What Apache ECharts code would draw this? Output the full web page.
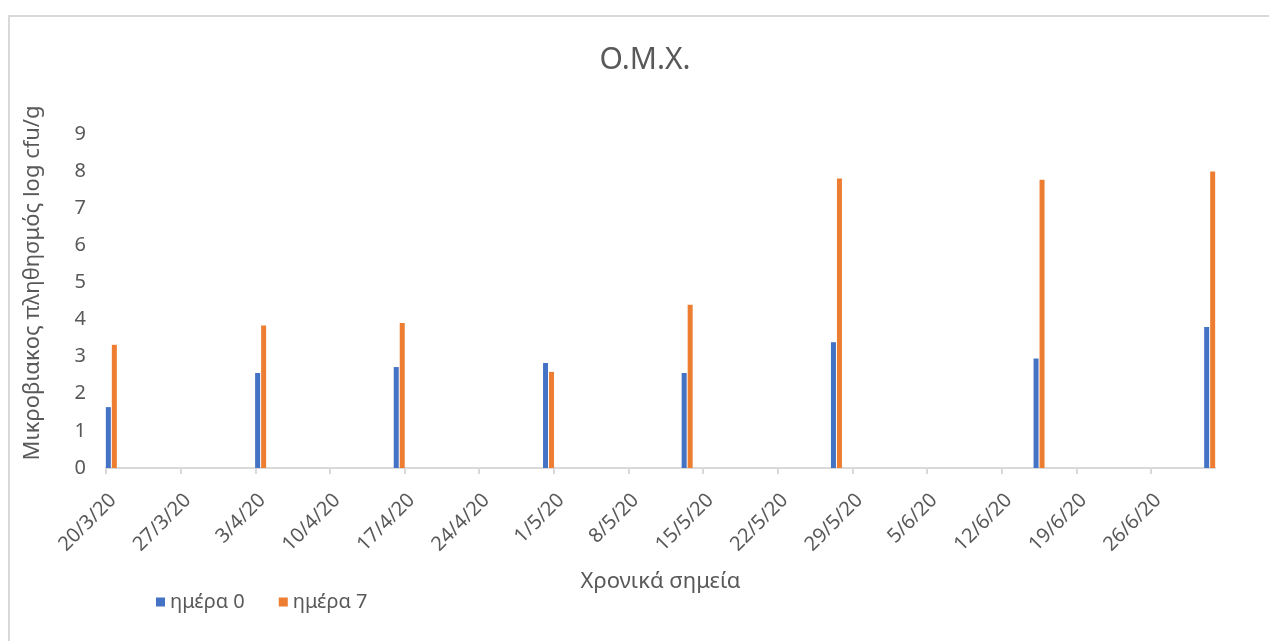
<!DOCTYPE html>
<html>
<head>
<meta charset="utf-8">
<script src="https://cdn.jsdelivr.net/npm/echarts@6/dist/echarts.min.js"></script>
<style>
    html, body {
        margin: 0;
        padding: 0;
        background: #fff;
    }
    #chart {
        width: 1269px;
        height: 641px;
    }
</style>
</head>
<body>
<div id="chart"></div>
<script>
// sampling dates and measured values (log cfu/g)
const dates = ["20/3/20", "3/4/20", "16/4/20", "30/4/20", "13/5/20", "27/5/20", "15/6/20", "1/7/20"];
const day0 = [1.64, 2.56, 2.72, 2.83, 2.56, 3.39, 2.95, 3.80];
const day7 = [3.32, 3.84, 3.91, 2.59, 4.40, 7.80, 7.77, 7.99];

// date axis: first day, day after the last slot, weekly tick labels
const axisStart = "20/3/20";
const axisEnd = "2/7/20";
const tickLabels = ["20/3/20", "27/3/20", "3/4/20", "10/4/20", "17/4/20", "24/4/20", "1/5/20",
    "8/5/20", "15/5/20", "22/5/20", "29/5/20", "5/6/20", "12/6/20", "19/6/20", "26/6/20"];
const yTicks = [0, 1, 2, 3, 4, 5, 6, 7, 8, 9];

const DAY = 86400000;
function parseDate(s) {
    const p = s.split("/").map(Number);
    return Date.UTC(2000 + p[2], p[1] - 1, p[0]);
}
function dayIndex(s) {
    return Math.round((parseDate(s) - parseDate(axisStart)) / DAY);
}
const tickPos = tickLabels.map(dayIndex);
const labelOf = {};
tickLabels.forEach(function (t, i) { labelOf[tickPos[i]] = t; });

const grey = "#595959";
const font = "Noto Sans";

const chart = echarts.init(document.getElementById("chart"));
chart.setOption({
    animation: false,
    textStyle: { fontFamily: font },
    title: {
        text: "Ο.Μ.Χ.",
        left: 640,
        top: 40,
        textAlign: "center",
        textStyle: { fontSize: 30, fontWeight: "normal", color: grey, fontFamily: font }
    },
    graphic: [{
        type: "rect",
        shape: { x: 9, y: 16, width: 1300, height: 700 },
        style: { fill: "none", stroke: "#d9d9d9", lineWidth: 2 },
        silent: true
    }],
    legend: {
        left: 151,
        top: 587,
        icon: "rect",
        itemWidth: 9,
        itemHeight: 9,
        itemGap: 34,
        textStyle: { fontSize: 20, color: grey, fontFamily: font },
        data: ["ημέρα 0", "ημέρα 7"]
    },
    grid: {
        left: 106,
        right: 54,
        top: 134,
        bottom: 173,
        containLabel: false
    },
    xAxis: {
        type: "value",
        min: 0,
        max: dayIndex(axisEnd),
        interval: 7,
        name: "Χρονικά σημεία",
        nameLocation: "middle",
        nameGap: 103,
        nameTextStyle: { fontSize: 22, color: grey },
        axisLine: { show: true, lineStyle: { color: "#d9d9d9", width: 2 } },
        axisTick: {
            show: true,
            length: 6,
            customValues: tickPos,
            lineStyle: { color: "#d9d9d9", width: 2 }
        },
        splitLine: { show: false },
        axisLabel: {
            customValues: tickPos,
            rotate: 45,
            margin: 22,
            verticalAlign: "top",
            fontSize: 20,
            color: grey,
            formatter: function (v) { return labelOf[v] || ""; }
        }
    },
    yAxis: {
        type: "value",
        min: yTicks[0],
        max: yTicks[yTicks.length - 1],
        interval: 1,
        name: "Μικροβιακος πληθησμός log cfu/g",
        nameLocation: "middle",
        nameGap: 62,
        nameTextStyle: { fontSize: 22, color: grey, padding: [0, 0, 0, 36] },
        axisLine: { show: false },
        axisTick: { show: false },
        splitLine: { show: false },
        axisLabel: { fontSize: 20, color: grey, margin: 20 }
    },
    series: [
        {
            name: "ημέρα 0",
            type: "bar",
            barWidth: 5,
            barGap: "20%",
            itemStyle: { color: "#4472C4" },
            data: dates.map(function (d, i) { return [dayIndex(d) + 0.5, day0[i]]; })
        },
        {
            name: "ημέρα 7",
            type: "bar",
            barWidth: 5,
            barGap: "20%",
            itemStyle: { color: "#ED7D31" },
            data: dates.map(function (d, i) { return [dayIndex(d) + 0.5, day7[i]]; })
        }
    ]
});
</script>
</body>
</html>
